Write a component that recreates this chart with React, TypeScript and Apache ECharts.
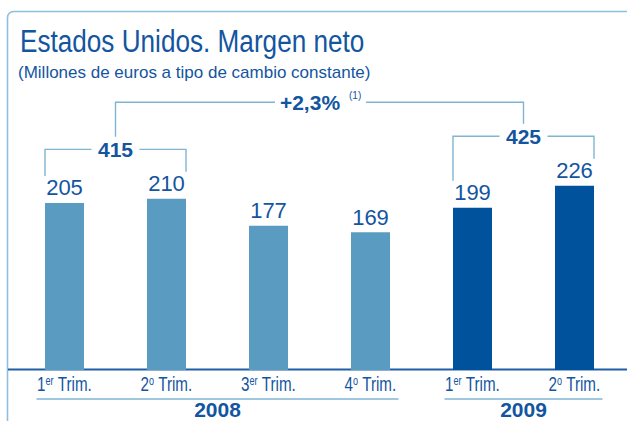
import React, { useEffect, useRef } from "react";
import * as echarts from "echarts";

// ---- data ----
const categories = ["1T2008", "2T2008", "3T2008", "4T2008", "1T2009", "2T2009"];
const quarterNum = ["1", "2", "3", "4", "1", "2"];
const quarterSup = ["er", "o", "er", "o", "er", "o"];
const values = [205, 210, 177, 169, 199, 226];
const yearOf = ["2008", "2008", "2008", "2008", "2009", "2009"];
const yearLabels = ["2008", "2009"];
const pairSums = [
  { label: "415", from: 0, to: 1 },
  { label: "425", from: 4, to: 5 },
];
const growthLabel = "+2,3%";
const growthNote = "(1)";
const titleText = "Estados Unidos. Margen neto";
const subtitleText = "(Millones de euros a tipo de cambio constante)";

// ---- styles ----
const C_LIGHT = "#5a9cc1";
const C_DARK = "#00529c";
const C_TEXT = "#13559f";
const C_LINE = "#7fb4d4";
const C_FRAME = "#8ec0db";
const SANS = "Liberation Sans, Arial, Helvetica, sans-serif";

export default function App() {
  const ref = useRef<HTMLDivElement>(null);
  useEffect(() => {
    if (!ref.current) return;
    const chart = echarts.init(ref.current, undefined, { renderer: "svg" });
    chart.setOption({
      animation: false,
      grid: { left: 13.5, width: 612, top: 125.5, height: 244.5 },
      xAxis: {
        type: "category",
        data: categories,
        axisLine: { show: false },
        axisTick: { show: false },
        axisLabel: { show: false },
      },
      yAxis: { type: "value", min: 0, max: 300, show: false },
      series: [
        {
          type: "bar",
          barWidth: 39,
          data: values.map((v, i) => ({
            value: v,
            itemStyle: { color: yearOf[i] === "2008" ? C_LIGHT : C_DARK },
          })),
          label: {
            show: true,
            position: "top",
            distance: 4,
            fontFamily: SANS,
            fontSize: 22,
            color: C_TEXT,
          },
        },
      ],
    });

    const px = (i: number) => chart.convertToPixel({ xAxisIndex: 0 }, i) as number;
    const py = (v: number) => chart.convertToPixel({ yAxisIndex: 0 }, v) as number;
    const halfBar = 19.5;
    const labelHalf = 28;
    const y0 = py(0);

    const g: any[] = [];
    // frame
    g.push({
      type: "rect",
      shape: { x: 7.5, y: 11.5, width: 800, height: 600, r: [6, 0, 0, 0] },
      style: { fill: "none", stroke: C_FRAME, lineWidth: 1.6 },
      silent: true,
    });
    // title & subtitle
    g.push({
      type: "text",
      x: 20,
      y: 41.5,
      scaleX: 0.83,
      style: { text: titleText, x: 0, y: 0, verticalAlign: "middle", font: `31.5px ${SANS}`, fill: C_TEXT },
    });
    g.push({
      type: "text",
      style: { text: subtitleText, x: 18, y: 72, verticalAlign: "middle", font: `17px ${SANS}`, fill: C_TEXT },
    });
    // baseline
    g.push({
      type: "line",
      shape: { x1: 8, y1: y0 - 0.5, x2: 627, y2: y0 - 0.5 },
      style: { stroke: "#1f5ea6", lineWidth: 2 },
    });
    // category labels (quarter with superscript)
    categories.forEach((_c, i) => {
      g.push({
        type: "text",
        x: px(i),
        y: y0 + 14.5,
        scaleX: 0.76,
        style: {
          text: `{n|${quarterNum[i]}}{s|${quarterSup[i]}}{n| Trim.}`,
          x: 0,
          y: 0,
          align: "center",
          verticalAlign: "middle",
          rich: {
            n: { fontFamily: SANS, fontSize: 20, fill: C_TEXT, lineHeight: 20 },
            s: { fontFamily: SANS, fontSize: 12, fill: C_TEXT, verticalAlign: "top", lineHeight: 12 },
          },
        },
      });
    });
    // year underlines and labels
    yearLabels.forEach((yr) => {
      const idx = yearOf.map((y, i) => (y === yr ? i : -1)).filter((i) => i >= 0);
      const xa = px(idx[0]) - labelHalf;
      const xb = px(idx[idx.length - 1]) + labelHalf;
      g.push({
        type: "line",
        shape: { x1: xa, y1: 399, x2: xb, y2: 399 },
        style: { stroke: C_LINE, lineWidth: 1.6 },
      });
      g.push({
        type: "text",
        style: {
          text: yr, x: (xa + xb) / 2, y: 409.5, align: "center", verticalAlign: "middle",
          font: `bold 21px ${SANS}`, fill: C_TEXT,
        },
      });
    });
    // pair brackets
    const bracketY: number[] = [];
    const bracketX: number[] = [];
    pairSums.forEach((p) => {
      const xa = px(p.from) - halfBar;
      const xb = px(p.to) + halfBar;
      const topA = py(values[p.from]);
      const topB = py(values[p.to]);
      const yb = Math.min(topA, topB) - 49.5;
      const xc = (px(p.from) + px(p.to)) / 2;
      bracketY.push(yb);
      bracketX.push(xc);
      const gap = 24;
      g.push({
        type: "polyline",
        shape: { points: [[xa, topA - 27], [xa, yb], [xc - gap, yb]] },
        style: { stroke: C_LINE, lineWidth: 1.4, fill: "none" },
      });
      g.push({
        type: "polyline",
        shape: { points: [[xc + gap, yb], [xb, yb], [xb, topB - 27]] },
        style: { stroke: C_LINE, lineWidth: 1.4, fill: "none" },
      });
      g.push({
        type: "text",
        style: {
          text: p.label, x: xc, y: yb + 0.5, align: "center", verticalAlign: "middle",
          font: `bold 21px ${SANS}`, fill: C_TEXT,
        },
      });
    });
    // growth bracket
    const gy = Math.min(...bracketY) - 34;
    const gx1 = bracketX[0];
    const gx2 = bracketX[1];
    const gTextX = 310;
    g.push({
      type: "polyline",
      shape: { points: [[gx1, bracketY[0] - 12.5], [gx1, gy], [gTextX - 35, gy]] },
      style: { stroke: C_LINE, lineWidth: 1.4, fill: "none" },
    });
    g.push({
      type: "polyline",
      shape: { points: [[gTextX + 56, gy], [gx2, gy], [gx2, bracketY[1] - 12.5]] },
      style: { stroke: C_LINE, lineWidth: 1.4, fill: "none" },
    });
    g.push({
      type: "text",
      style: {
        text: growthLabel, x: gTextX, y: gy, align: "center", verticalAlign: "middle",
        font: `bold 21px ${SANS}`, fill: C_TEXT,
      },
    });
    g.push({
      type: "text",
      style: {
        text: growthNote, x: 349, y: gy - 6.5, align: "left", verticalAlign: "middle",
        font: `10px ${SANS}`, fill: C_TEXT,
      },
    });
    chart.setOption({ graphic: g });
    return () => chart.dispose();
  }, []);
  return (
    <div
      ref={ref}
      style={{ position: "absolute", left: 0, top: 0, width: 627, height: 421, background: "#fff" }}
    />
  );
}
